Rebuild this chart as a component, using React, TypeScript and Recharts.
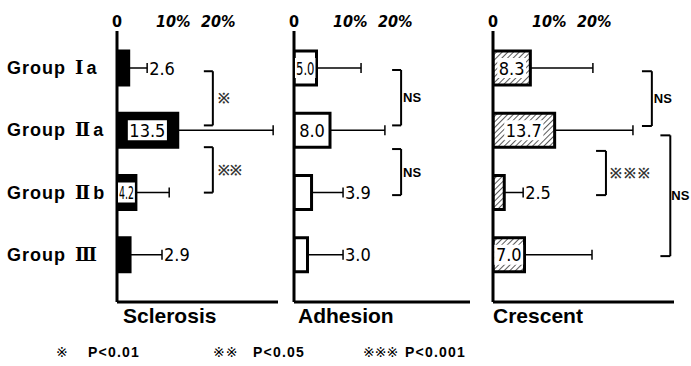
import React from "react";
import { BarChart, Bar, XAxis, YAxis, ErrorBar, LabelList, ReferenceLine } from "recharts";

const groups = ["Ia", "IIa", "IIb", "III"];
const groupNumerals = ["Ⅰ", "Ⅱ", "Ⅱ", "Ⅲ"];
const groupSuffix = ["a", "a", "b", ""];
const pctTicks = [0, 10, 20];

const sclerosisMean = [2.6, 13.5, 4.2, 2.9];
const sclerosisSD = [4.1, 21.2, 7.4, 7.1];
const adhesionMean = [5.0, 8.0, 3.9, 3.0];
const adhesionSD = [9.9, 12.2, 7.0, 7.9];
const crescentMean = [8.3, 13.7, 2.5, 7.0];
const crescentSD = [13.9, 17.4, 4.2, 15.0];

// value label drawn inside the bar (true) or after the error cap (false)
const sclerosisInside = [false, true, true, false];
const adhesionInside = [true, true, false, false];
const crescentInside = [true, true, false, true];

// significance brackets: y in group units (0 = Ia ... 3 = III), x in %
interface Bracket {
  y1: number;
  y2: number;
  x: number;
  stub: number;
  text: string;
  offset: number;
}
const sclerosisBrackets: Bracket[] = [
  { y1: 0.05, y2: 0.92, x: 21.3, stub: 2, text: "※", offset: 5 },
  { y1: 1.27, y2: 2.0, x: 21.3, stub: 2, text: "※※", offset: 5 },
];
const adhesionBrackets: Bracket[] = [
  { y1: 0.03, y2: 0.92, x: 23.8, stub: 2, text: "NS", offset: 2 },
  { y1: 1.3, y2: 2.04, x: 23.8, stub: 2, text: "NS", offset: 2 },
];
const crescentBrackets: Bracket[] = [
  { y1: 0.05, y2: 0.93, x: 35.3, stub: 2.2, text: "NS", offset: 2 },
  { y1: 1.33, y2: 2.04, x: 25.1, stub: 2.2, text: "※※※", offset: 4 },
  { y1: 1.08, y2: 3.02, x: 39.4, stub: 2.2, text: "NS", offset: 1 },
];

const PX_PER_PCT = 4.5;
const CHART_H = 304;
const TOP_AXIS_H = 31;
const BOTTOM_AXIS_H = 2;
const PAD = { top: 6, bottom: 16 };
// bracket axis runs from the first band centre to the last one
const BAND = (CHART_H - TOP_AXIS_H - BOTTOM_AXIS_H - PAD.top - PAD.bottom) / groups.length;
const PAD_B = { top: PAD.top + BAND / 2, bottom: PAD.bottom + BAND / 2 };

const GroupTick = ({ y, payload }: any) => {
  const i = groups.indexOf(payload.value);
  return (
    <text
      x={7}
      y={y}
      dy={6}
      fontFamily="'Liberation Sans', Arial, sans-serif"
      fontWeight="bold"
      fontSize={18}
      letterSpacing={1}
      fill="#000"
    >
      Group
      <tspan dx={9} fontFamily="'DejaVu Serif', serif">
        {groupNumerals[i]}
      </tspan>
      <tspan dx={2}>{groupSuffix[i]}</tspan>
    </text>
  );
};

const PctTick = ({ x, payload }: any) => {
  const v = payload.value;
  return (
    <text
      x={v === 0 ? x : x - 6}
      y={27}
      textAnchor={v === 0 ? "middle" : "start"}
      fontFamily="'DejaVu Sans Condensed', sans-serif"
      fontWeight="bold"
      fontStyle={v === 0 ? "normal" : "italic"}
      fontSize={16}
      fill="#000"
    >
      {v === 0 ? "0" : `${v}%`}
    </text>
  );
};

interface PanelProps {
  left: number;
  width: number;
  plotLeft: number;
  plotRight: number;
  means: number[];
  sds: number[];
  inside: boolean[];
  brackets: Bracket[];
  fill: string;
  showGroups?: boolean;
}

function Panel({ left, width, plotLeft, plotRight, means, sds, inside, brackets, fill, showGroups }: PanelProps) {
  const data = groups.map((g, i) => ({ group: g, mean: means[i], err: [0, sds[i]], i }));
  const max = (plotRight - plotLeft) / PX_PER_PCT;
  const yw = showGroups ? plotLeft - left : 1;

  const ValueLabel = (props: any) => {
    const { x, y, width: w, height: h, value } = props;
    const i = Number(value);
    const m = means[i];
    const text = m.toFixed(1);
    const cy = y + h / 2;
    const font = {
      fontFamily: "'DejaVu Sans Condensed', sans-serif",
      fontSize: 18,
      fill: "#000",
    };
    if (inside[i]) {
      const natural = (text.length - 1) * 10.3 + 5.2 + 3;
      const fits = natural <= w - 2;
      const bw = fits ? natural : w - 2;
      const cx = x + w / 2;
      return (
        <g>
          <rect x={cx - bw / 2} y={cy - 10} width={bw} height={20} fill="#fff" />
          <text
            x={cx}
            y={cy}
            dy={6.5}
            textAnchor="middle"
            {...font}
            {...(fits ? {} : { textLength: bw - 2, lengthAdjust: "spacingAndGlyphs" })}
          >
            {text}
          </text>
        </g>
      );
    }
    const xEnd = x + (w * (m + sds[i])) / m;
    return (
      <text x={xEnd + 2} y={cy} dy={6.5} {...font}>
        {text}
      </text>
    );
  };

  return (
    <div style={{ position: "absolute", left, top: 0 }}>
      <BarChart
        width={width}
        height={CHART_H}
        data={data}
        layout="vertical"
        margin={{ top: 0, right: left + width - plotRight, bottom: 0, left: plotLeft - left - yw }}
      >
        <defs>
          <pattern id="hatch" patternUnits="userSpaceOnUse" width={4} height={4} patternTransform="rotate(45)">
            <rect width={4} height={4} fill="#fff" />
            <line x1={0} y1={0} x2={0} y2={4} stroke="#000" strokeWidth={1.3} />
          </pattern>
        </defs>
        <XAxis
          xAxisId="top"
          orientation="top"
          type="number"
          domain={[0, max]}
          allowDataOverflow
          ticks={pctTicks}
          height={TOP_AXIS_H}
          axisLine={false}
          tickLine={false}
          tick={<PctTick />}
        />
        <XAxis
          xAxisId="bottom"
          type="number"
          domain={[0, max]}
          allowDataOverflow
          height={BOTTOM_AXIS_H}
          tick={false}
          tickLine={false}
          axisLine={{ stroke: "#000", strokeWidth: 3 }}
        />
        <YAxis
          type="category"
          dataKey="group"
          width={yw}
          padding={PAD}
          tickLine={false}
          axisLine={{ stroke: "#000", strokeWidth: 3 }}
          tick={showGroups ? <GroupTick /> : false}
        />
        <YAxis
          yAxisId="b"
          type="number"
          dataKey="i"
          domain={[0, groups.length - 1]}
          hide
          padding={PAD_B}
          allowDataOverflow
        />
        <Bar
          xAxisId="bottom"
          dataKey="mean"
          barSize={34}
          fill={fill}
          stroke="#000"
          strokeWidth={3}
          isAnimationActive={false}
        >
          <ErrorBar dataKey="err" direction="x" width={5} stroke="#000" strokeWidth={1.5} />
          <LabelList dataKey="i" content={<ValueLabel />} />
        </Bar>
        {brackets.map((b, k) => (
          <React.Fragment key={k}>
            <ReferenceLine
              xAxisId="bottom"
              yAxisId="b"
              ifOverflow="visible"
              segment={[
                { x: b.x, y: b.y1 },
                { x: b.x, y: b.y2 },
              ]}
              stroke="#000"
              strokeWidth={2}
              label={{
                value: b.text,
                position: "right",
                offset: b.offset,
                fill: b.text === "NS" ? "#000" : "#333",
                fontSize: b.text === "NS" ? 13 : 14,
                fontWeight: "bold",
                letterSpacing: b.text === "※※※" ? 2 : 0,
                fontFamily: "'Liberation Sans', Arial, sans-serif",
              }}
            />
            <ReferenceLine
              xAxisId="bottom"
              yAxisId="b"
              ifOverflow="visible"
              segment={[
                { x: b.x - b.stub, y: b.y1 },
                { x: b.x, y: b.y1 },
              ]}
              stroke="#000"
              strokeWidth={2}
            />
            <ReferenceLine
              xAxisId="bottom"
              yAxisId="b"
              ifOverflow="visible"
              segment={[
                { x: b.x - b.stub, y: b.y2 },
                { x: b.x, y: b.y2 },
              ]}
              stroke="#000"
              strokeWidth={2}
            />
          </React.Fragment>
        ))}
      </BarChart>
    </div>
  );
}

const titleFont = {
  fontFamily: "'Liberation Sans', Arial, sans-serif",
  fontWeight: "bold" as const,
  fontSize: 21,
  fill: "#000",
};
const legendFont = {
  fontFamily: "'Liberation Sans', Arial, sans-serif",
  fontWeight: "bold" as const,
  fontSize: 14,
  letterSpacing: 1.2,
  fill: "#000",
};
const markFont = {
  fontFamily: "'DejaVu Sans', sans-serif",
  fontSize: 14,
  fill: "#000",
};

export default function App() {
  return (
    <div style={{ position: "absolute", left: 0, top: 0, width: 691, height: 366, background: "#fff", overflow: "hidden" }}>
      <Panel
        left={0}
        width={290}
        plotLeft={117}
        plotRight={278}
        means={sclerosisMean}
        sds={sclerosisSD}
        inside={sclerosisInside}
        brackets={sclerosisBrackets}
        fill="#000"
        showGroups
      />
      <Panel
        left={280}
        width={200}
        plotLeft={294}
        plotRight={470}
        means={adhesionMean}
        sds={adhesionSD}
        inside={adhesionInside}
        brackets={adhesionBrackets}
        fill="#fff"
      />
      <Panel
        left={480}
        width={211}
        plotLeft={493}
        plotRight={674}
        means={crescentMean}
        sds={crescentSD}
        inside={crescentInside}
        brackets={crescentBrackets}
        fill="url(#hatch)"
      />
      <svg width={691} height={366} style={{ position: "absolute", left: 0, top: 0, pointerEvents: "none" }}>
        <text x={123} y={323} {...titleFont}>Sclerosis</text>
        <text x={298} y={323} {...titleFont}>Adhesion</text>
        <text x={493} y={323} {...titleFont}>Crescent</text>

        <text x={56} y={357} {...markFont}>※</text>
        <text x={88} y={357} {...legendFont}>P&lt;0.01</text>
        <text x={213} y={357} {...markFont} letterSpacing={1}>※※</text>
        <text x={253} y={357} {...legendFont}>P&lt;0.05</text>
        <text x={363} y={357} {...markFont}>※※※</text>
        <text x={405} y={357} {...legendFont}>P&lt;0.001</text>
      </svg>
    </div>
  );
}
